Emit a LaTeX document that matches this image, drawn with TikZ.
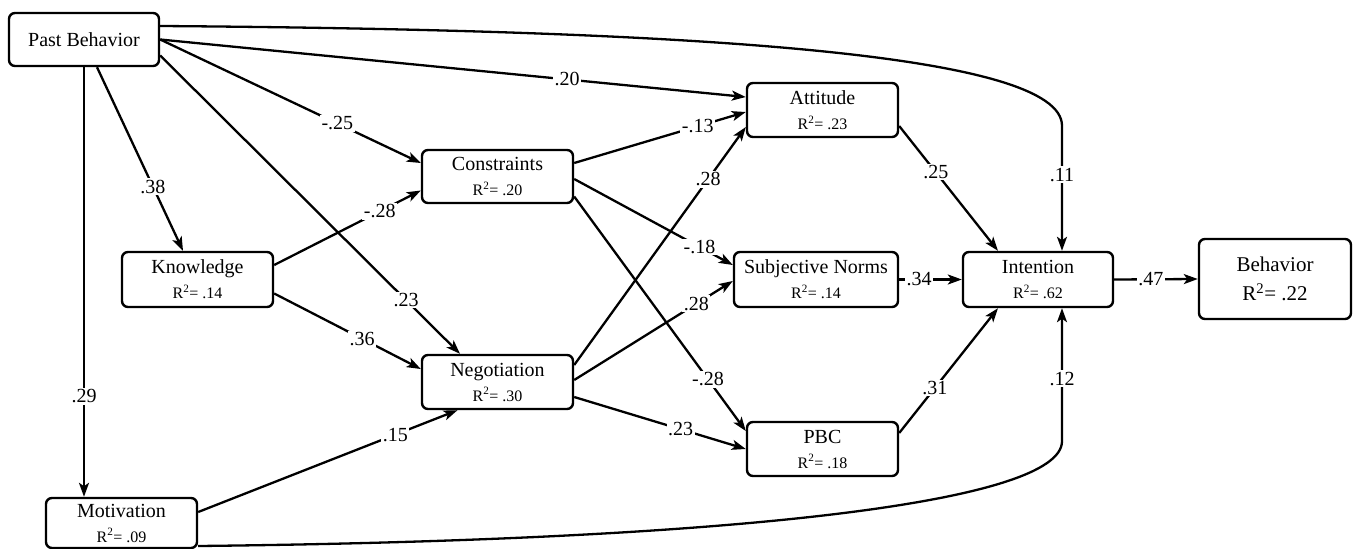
\documentclass[tikz,border=0pt]{standalone}
\usepackage{fontspec}
\setmainfont{Liberation Serif}
\usetikzlibrary{arrows.meta,calc}
\newcommand\rsq[1]{{\fontsize{16}{18}\selectfont R\textsuperscript{2}= #1}}
\begin{document}
\begin{tikzpicture}[x=1pt,y=-1pt,
  box/.style={draw,line width=2.4pt,rounded corners=6pt,align=center,inner sep=0pt,
    minimum width=151pt,minimum height=54pt,font=\fontsize{20}{25}\selectfont},
  conn/.style={line width=2.3pt,-{Stealth[length=14pt,width=10pt,inset=3.5pt]}},
  lab/.style={fill=white,inner sep=1.5pt,font=\fontsize{20}{22}\selectfont},
]
\useasboundingbox (0,0) rectangle (1353,549);

\node[box,minimum width=150pt,minimum height=53pt] (pb) at (84,39.5) {Past Behavior};
\node[box,minimum height=55pt] (know) at (197.5,279.5) {Knowledge\\\rsq{.14}};
\node[box,minimum height=50pt] (mot) at (121.5,523) {Motivation\\\rsq{.09}};
\node[box,minimum height=53pt] (cons) at (497.5,176.5) {Constraints\\\rsq{.20}};
\node[box] (neg) at (497.5,382) {Negotiation\\\rsq{.30}};
\node[box] (att) at (822.5,110) {Attitude\\\rsq{.23}};
\node[box,minimum width=164pt,minimum height=55pt] (sn) at (816,279.5) {Subjective Norms\\\rsq{.14}};
\node[box] (pbc) at (822.5,449) {PBC\\\rsq{.18}};
\node[box,minimum width=150pt,minimum height=55pt] (int) at (1038,279.5) {Intention\\\rsq{.62}};
\node[box,minimum width=152pt,minimum height=80pt,font=\fontsize{21}{29}\selectfont] (beh) at (1275,279) {Behavior\\R\textsuperscript{2}= .22};

% Past Behavior paths
\draw[conn] (pb.east) -- node[lab,pos=.695] {.20} ($(att.west)+(0,-13)$);
\coordinate (c11) at ($(int.north)+(24,-125)$);
\draw[conn] ($(pb.east)+(0,-13.5)$) .. controls (700,30) and ($(c11)+(0,-72)$) .. (c11)
   -- node[lab,pos=.39] {.11} ($(int.north)+(24,0)$);
\draw[conn] (pb.south) -- node[lab,pos=.766] {.29} ($(mot.north)+(-37.5,0)$);
\draw[conn] ($(pb.south)+(13,0)$) -- node[lab,pos=.65] {.38} ($(know.north)+(-14.5,0)$);
\draw[conn] (pb.east) -- node[lab,pos=.68] {-.25} ($(cons.west)+(0,-13.5)$);
\draw[conn] ($(pb.east)+(0,16)$) -- node[lab,pos=.82] {.23} ($(neg.north)+(-37.5,0)$);

% Knowledge and Motivation
\draw[conn] ($(know.east)+(0,-14.5)$) -- node[lab,pos=.72] {-.28} ($(cons.west)+(0,14)$);
\draw[conn] ($(know.east)+(0,14)$) -- node[lab,pos=.6] {.36} ($(neg.west)+(0,-13)$);
\draw[conn] ($(mot.east)+(0,-11)$) -- node[lab,pos=.76] {.15} ($(neg.south)+(-40,0)$);
\coordinate (c12) at ($(int.south)+(24,133)$);
\draw[conn] ($(mot.east)+(0,23)$) .. controls (750,540) and ($(c12)+(0,60)$) .. (c12)
   -- node[lab,pos=.47] {.12} ($(int.south)+(24,0)$);

% Constraints
\draw[conn] ($(cons.east)+(0,-13.5)$) -- node[lab,pos=.72] {-.13} ($(att.west)+(0,2)$);
\draw[conn] ($(cons.east)+(0,2.5)$) -- node[lab,pos=.79] {-.18} ($(sn.west)+(0,-14.5)$);
\draw[conn] ($(cons.east)+(0,20)$) -- node[lab,pos=.78] {-.28} ($(pbc.west)+(0,-18)$);

% Negotiation
\draw[conn] ($(neg.east)+(0,-17)$) -- node[lab,pos=.78] {.28} ($(att.west)+(0,17)$);
\draw[conn] ($(neg.east)+(0,-2)$) -- node[lab,pos=.77] {.28} ($(sn.west)+(0,1.5)$);
\draw[conn] ($(neg.east)+(0,15)$) -- node[lab,pos=.62] {.23} (pbc.west);

% TPB
\draw[conn] ($(att.east)+(0,16)$) -- node[lab,pos=.37] {.25} ($(int.north)+(-40,0)$);
\draw[conn] (sn.east) -- node[lab,pos=.32] {.34} (int.west);
\draw[conn] ($(pbc.east)+(0,-16)$) -- node[lab,pos=.36] {.31} ($(int.south)+(-40,0)$);
\draw[conn] (int.east) -- node[lab,pos=.44] {.47} (beh.west);
\end{tikzpicture}
\end{document}
